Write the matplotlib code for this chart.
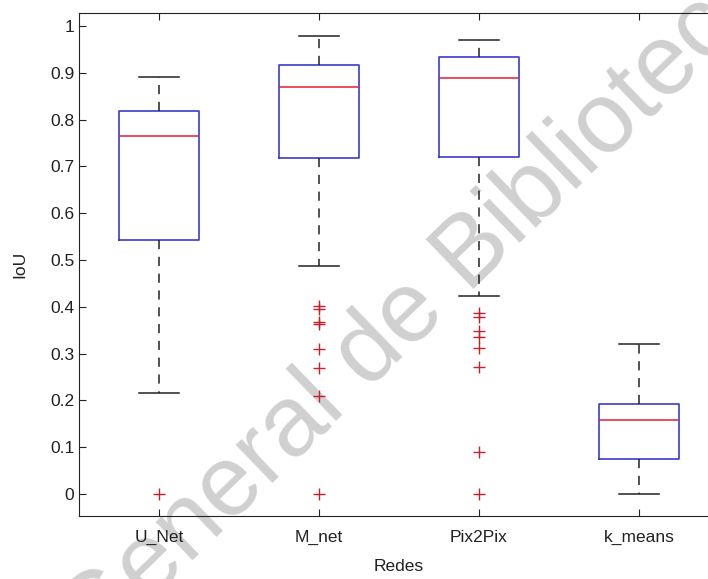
import matplotlib.pyplot as plt

# Datos (IoU por red)
redes = ['U_Net', 'M_net', 'Pix2Pix', 'k_means']
q1 = [0.543, 0.719, 0.721, 0.074]
mediana = [0.766, 0.870, 0.890, 0.158]
q3 = [0.819, 0.917, 0.934, 0.192]
bigote_inf = [0.216, 0.488, 0.423, 0.0]
bigote_sup = [0.892, 0.979, 0.971, 0.321]
atipicos = [
    [0.0],
    [0.402, 0.395, 0.368, 0.363, 0.309, 0.269, 0.209, 0.0],
    [0.387, 0.378, 0.348, 0.336, 0.311, 0.271, 0.09, 0.0],
    [],
]

plt.rcParams['font.family'] = ['Liberation Sans', 'DejaVu Sans']

fig = plt.figure(figsize=(7.08, 5.79), dpi=100)
fig.patch.set_facecolor('white')
ax = fig.add_axes([79 / 708, 63 / 579, 640 / 708, 503 / 579])
ax.patch.set_visible(False)

stats = []
for i in range(len(redes)):
    stats.append({'med': mediana[i], 'q1': q1[i], 'q3': q3[i],
                  'whislo': bigote_inf[i], 'whishi': bigote_sup[i],
                  'fliers': atipicos[i], 'label': redes[i]})

ax.bxp(stats, positions=range(1, 5), widths=0.5, showfliers=True,
       boxprops=dict(color='#3b3bd0', linewidth=1.2),
       medianprops=dict(color='#e0202a', linewidth=1.1),
       whiskerprops=dict(color='#222222', linewidth=1.1, linestyle=(0, (6, 5))),
       capprops=dict(color='#222222', linewidth=1.1),
       capwidths=0.25,
       flierprops=dict(marker='+', markeredgecolor='#c8202a', markersize=9,
                       markeredgewidth=1.0, linestyle='none'))

ax.set_xlim(0.5, 4.5)
ax.set_ylim(-0.047, 1.028)
ax.set_yticks([0, 0.1, 0.2, 0.3, 0.4, 0.5, 0.6, 0.7, 0.8, 0.9, 1])
ax.set_yticklabels(['0', '0.1', '0.2', '0.3', '0.4', '0.5', '0.6', '0.7', '0.8', '0.9', '1'])
ax.tick_params(direction='in', length=5, labelsize=12.5, colors='#222222',
               top=True, right=False)
ax.tick_params(axis='x', pad=10)
ax.spines['right'].set_visible(False)
for s in ax.spines.values():
    s.set_color('#222222')
ax.set_xlabel('Redes', fontsize=12.5, color='#222222', labelpad=10)
ax.set_ylabel('IoU', fontsize=12.5, color='#222222', labelpad=16)

# marca de agua
fig.text(0.59, 0.47, 'General de Biblioteca', fontsize=72, color='#d0d0d0',
         rotation=44, ha='center', va='center', zorder=-1)

fig.savefig('out.png', dpi=100)
